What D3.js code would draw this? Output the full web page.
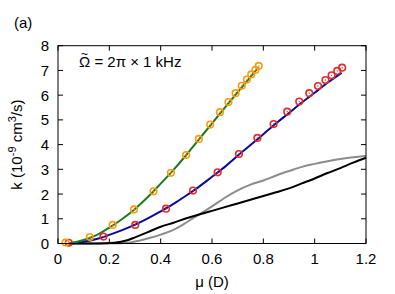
<!DOCTYPE html>
<html lang="en">
    <head>
        <meta charset="utf-8">
        <title>k vs mu</title>
        <script type="text/javascript" src="https://cdn.jsdelivr.net/npm/d3@7"></script>
        <style type="text/css">
            body { margin: 0; background: #fff; }
            text { font-family: "Liberation Sans", Arial, sans-serif; }
        </style>
    </head>
    <body>
        <script type="text/javascript">
            // orange points (mu, k)
            var orangeMu = [0.029, 0.124, 0.213, 0.296, 0.372, 0.440, 0.499, 0.549, 0.593, 0.631,
                            0.664, 0.692, 0.716, 0.736, 0.753, 0.769, 0.782];
            var orangeK  = [0.04, 0.26, 0.75, 1.38, 2.11, 2.86, 3.58, 4.23, 4.81, 5.31,
                            5.72, 6.08, 6.38, 6.63, 6.84, 7.02, 7.18];

            // red points
            var redMu = [0.042, 0.177, 0.301, 0.421, 0.526, 0.622, 0.705, 0.777, 0.840, 0.893,
                         0.940, 0.979, 1.013, 1.042, 1.066, 1.088, 1.107];
            var redK  = [0.03, 0.28, 0.75, 1.41, 2.14, 2.88, 3.62, 4.27, 4.83, 5.33,
                         5.74, 6.08, 6.37, 6.61, 6.80, 6.98, 7.11];

            // green curve
            var greenMu = [0.04, 0.1, 0.15, 0.2, 0.25, 0.3, 0.35, 0.4, 0.45, 0.5, 0.55, 0.6, 0.65, 0.7, 0.75, 0.782];
            var greenK  = [0.0, 0.14, 0.34, 0.64, 0.99, 1.4, 1.88, 2.42, 2.98, 3.58, 4.22, 4.86, 5.5, 6.12, 6.74, 7.14];

            // blue curve
            var blueMu = [0.05, 0.1, 0.15, 0.2, 0.25, 0.3, 0.35, 0.4, 0.45, 0.5, 0.55, 0.6, 0.65, 0.7,
                          0.75, 0.8, 0.85, 0.9, 0.95, 1.0, 1.05, 1.105];
            var blueK  = [0.0, 0.07, 0.18, 0.35, 0.54, 0.76, 1.02, 1.3, 1.6, 1.94, 2.3, 2.7, 3.1, 3.55,
                          3.98, 4.42, 4.86, 5.28, 5.7, 6.1, 6.5, 6.9];

            // black curve
            var blackMu = [0.04, 0.15, 0.22, 0.27, 0.3, 0.35, 0.4, 0.45, 0.5, 0.55, 0.6, 0.65, 0.7, 0.75,
                           0.8, 0.85, 0.9, 0.95, 1.0, 1.05, 1.1, 1.15, 1.2];
            var blackK  = [0.0, 0.0, 0.03, 0.13, 0.25, 0.46, 0.68, 0.84, 1.02, 1.17, 1.32, 1.47, 1.62, 1.77,
                           1.92, 2.07, 2.23, 2.43, 2.63, 2.85, 3.05, 3.27, 3.47];

            // gray curve
            var grayMu = [0.04, 0.2, 0.28, 0.32, 0.36, 0.4, 0.45, 0.5, 0.55, 0.6, 0.65, 0.7, 0.75, 0.8,
                          0.85, 0.9, 0.95, 1.0, 1.05, 1.1, 1.15, 1.2];
            var grayK  = [0.0, 0.0, 0.04, 0.12, 0.23, 0.36, 0.55, 0.85, 1.18, 1.5, 1.85, 2.15, 2.38, 2.55,
                          2.75, 2.93, 3.1, 3.22, 3.33, 3.42, 3.49, 3.54];

            var xTicks = [0, 0.2, 0.4, 0.6, 0.8, 1, 1.2];
            var yTicks = [0, 1, 2, 3, 4, 5, 6, 7, 8];

            // plot area (avoid "top", it is window.top)
            var w = 395;
            var h = 294;
            var pLeft = 58, pRight = 366, pTop = 45.7, pBottom = 243.5;

            var x = d3.scaleLinear().domain([0, 1.2]).range([pLeft, pRight]);
            var y = d3.scaleLinear().domain([0, 8]).range([pBottom, pTop]);

            var svg = d3.select("body")
                        .append("svg")
                        .attr("width", w)
                        .attr("height", h);

            function zip(a, b) {
                return a.map(function(d, i) { return [d, b[i]]; });
            }

            var line = d3.line()
                .x(function(d) { return x(d[0]); })
                .y(function(d) { return y(d[1]); })
                .curve(d3.curveMonotoneX);

            // curves
            var curves = [
                { data: zip(grayMu, grayK), color: "#8c8c8c" },
                { data: zip(blackMu, blackK), color: "#000000" },
                { data: zip(blueMu, blueK), color: "#0a0a96" },
                { data: zip(greenMu, greenK), color: "#1d7a1d" }
            ];
            svg.selectAll("path.curve")
                .data(curves)
                .enter()
                .append("path")
                .attr("class", "curve")
                .attr("d", function(d) { return line(d.data); })
                .attr("fill", "none")
                .attr("stroke", function(d) { return d.color; })
                .attr("stroke-width", 2);

            // points: ring with a dot in the middle
            function drawPoints(pts, color) {
                var g = svg.append("g");
                g.selectAll("circle.ring")
                    .data(pts)
                    .enter()
                    .append("circle")
                    .attr("class", "ring")
                    .attr("cx", function(d) { return x(d[0]); })
                    .attr("cy", function(d) { return y(d[1]); })
                    .attr("r", 3.3)
                    .attr("fill", "none")
                    .attr("stroke", color)
                    .attr("stroke-width", 1.6);
                g.selectAll("circle.dot")
                    .data(pts)
                    .enter()
                    .append("circle")
                    .attr("class", "dot")
                    .attr("cx", function(d) { return x(d[0]); })
                    .attr("cy", function(d) { return y(d[1]); })
                    .attr("r", 0.7)
                    .attr("fill", color);
            }
            drawPoints(zip(redMu, redK), "#e52a2a");
            drawPoints(zip(orangeMu, orangeK), "#ff9a10");

            // frame and ticks (mirrored, pointing in)
            svg.append("rect")
                .attr("x", pLeft)
                .attr("y", pTop)
                .attr("width", pRight - pLeft)
                .attr("height", pBottom - pTop)
                .attr("fill", "none")
                .attr("stroke", "#000")
                .attr("stroke-width", 1);

            var tickLen = 5;
            svg.selectAll("line.xt")
                .data(xTicks)
                .enter()
                .append("line")
                .attr("x1", function(d) { return x(d); })
                .attr("x2", function(d) { return x(d); })
                .attr("y1", pBottom)
                .attr("y2", pBottom - tickLen)
                .attr("stroke", "#000");
            svg.selectAll("line.xt2")
                .data(xTicks)
                .enter()
                .append("line")
                .attr("x1", function(d) { return x(d); })
                .attr("x2", function(d) { return x(d); })
                .attr("y1", pTop)
                .attr("y2", pTop + tickLen)
                .attr("stroke", "#000");
            svg.selectAll("line.yt")
                .data(yTicks)
                .enter()
                .append("line")
                .attr("x1", pLeft)
                .attr("x2", pLeft + tickLen)
                .attr("y1", function(d) { return y(d); })
                .attr("y2", function(d) { return y(d); })
                .attr("stroke", "#000");
            svg.selectAll("line.yt2")
                .data(yTicks)
                .enter()
                .append("line")
                .attr("x1", pRight)
                .attr("x2", pRight - tickLen)
                .attr("y1", function(d) { return y(d); })
                .attr("y2", function(d) { return y(d); })
                .attr("stroke", "#000");

            // tick labels
            svg.selectAll("text.xl")
                .data(xTicks)
                .enter()
                .append("text")
                .text(function(d) { return d; })
                .attr("x", function(d) { return x(d); })
                .attr("y", 264)
                .attr("font-size", "15px")
                .attr("text-anchor", "middle");
            svg.selectAll("text.yl")
                .data(yTicks)
                .enter()
                .append("text")
                .text(function(d) { return d; })
                .attr("x", 49)
                .attr("y", function(d) { return y(d) + 5.5; })
                .attr("font-size", "15px")
                .attr("text-anchor", "end");

            // axis titles
            svg.append("text")
                .attr("x", x(0.6))
                .attr("y", 287)
                .attr("font-size", "15px")
                .attr("text-anchor", "middle")
                .text("\u03bc (D)");

            var yl = svg.append("text")
                .attr("transform", "translate(22," + ((pTop + pBottom) / 2) + ") rotate(-90)")
                .attr("font-size", "15px")
                .attr("text-anchor", "middle");
            yl.append("tspan").text("k (10");
            yl.append("tspan").attr("dy", -6).attr("font-size", "11px").text("-9");
            yl.append("tspan").attr("dy", 6).text(" cm");
            yl.append("tspan").attr("dy", -6).attr("font-size", "11px").text("3");
            yl.append("tspan").attr("dy", 6).text("/s)");

            // panel label
            svg.append("text")
                .attr("x", 14)
                .attr("y", 28)
                .attr("font-size", "15px")
                .text("(a)");

            // annotation, tilde placed over the Omega by hand
            var ann = svg.append("text")
                .attr("x", 79)
                .attr("y", 67)
                .attr("font-size", "15px")
                .text("\u03a9 = 2\u03c0 \u00d7 1 kHz");
            var omegaW = ann.node().getSubStringLength(0, 1);
            svg.append("text")
                .attr("x", 79 + omegaW / 2)
                .attr("y", 58)
                .attr("font-size", "12px")
                .attr("text-anchor", "middle")
                .text("~");
        </script>
    </body>
</html>
